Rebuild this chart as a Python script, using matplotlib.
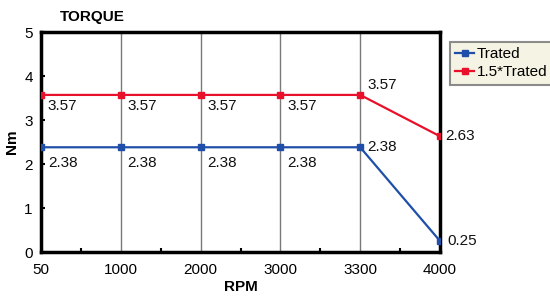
import matplotlib
matplotlib.use("Agg")
import matplotlib.pyplot as plt
import numpy as np

categories = ["50", "1000", "2000", "3000", "3300", "4000"]
trated = [2.38, 2.38, 2.38, 2.38, 2.38, 0.25]
trated15 = [3.57, 3.57, 3.57, 3.57, 3.57, 2.63]

plt.rcParams['font.family'] = ['Liberation Sans', 'DejaVu Sans']

fig = plt.figure(figsize=(5.5, 2.96), dpi=100)
ax = fig.add_axes([41/550, 44/296, 399/550, 220/296])
x = np.arange(len(categories))

blue = "#1f4fa8"
red = "#e8102a"
ax.plot(x, trated, color=blue, lw=1.6, marker='s', ms=4, label="Trated", zorder=3)
ax.plot(x, trated15, color=red, lw=1.6, marker='s', ms=4, label="1.5*Trated", zorder=3)

for xi, v in zip(x, trated):
    if xi < 4:
        off = (5, -11)
    else:
        off = (5, 0)
    ax.annotate(f"{v:.2f}", (xi, v), xytext=off, textcoords='offset points',
                ha='left', va='center', fontsize=11, color='#111111')
for xi, v in zip(x, trated15):
    if xi < 4:
        off = (5, -8)
    elif xi == 4:
        off = (5, 7)
    else:
        off = (4, 0)
    ax.annotate(f"{v:.2f}", (xi, v), xytext=off, textcoords='offset points',
                ha='left', va='center', fontsize=11, color='#111111')

ax.set_xlim(0, len(categories) - 1)
ax.set_ylim(0, 5)
ax.set_xticks(x)
ax.set_xticklabels(categories, fontsize=11)
ax.set_xticks(x[:-1] + 0.5, minor=True)
ax.set_yticks(range(6))
ax.set_yticklabels([str(i) for i in range(6)], fontsize=11)
ax.tick_params(axis='both', which='both', direction='in', length=3, width=1.5, pad=6)
ax.tick_params(axis='x', which='major', length=0, pad=8)
for i in x[1:-1]:
    ax.axvline(i, color='#7a7a7a', lw=1, zorder=1)
for s in ax.spines.values():
    s.set_linewidth(2.5)
    s.set_color('black')

ax.set_xlabel("RPM", fontsize=11, fontweight='bold', labelpad=2)
ax.set_ylabel("Nm", fontsize=11, fontweight='bold', labelpad=4)
fig.text(92/550, 1 - 17/296, "TORQUE", fontsize=11, fontweight='bold', ha='center', va='center')

leg = fig.legend(loc='upper left', bbox_to_anchor=(450/550, 1 - 42/296), fontsize=11,
                 frameon=True, fancybox=False, handlelength=1.2, handletextpad=0.2,
                 borderpad=0.35, labelspacing=0.25, borderaxespad=0)
leg.get_frame().set_facecolor('#f3f0dc')
leg.get_frame().set_edgecolor('#707070')
leg.get_frame().set_linewidth(1.5)

fig.savefig("out.png", dpi=100)
